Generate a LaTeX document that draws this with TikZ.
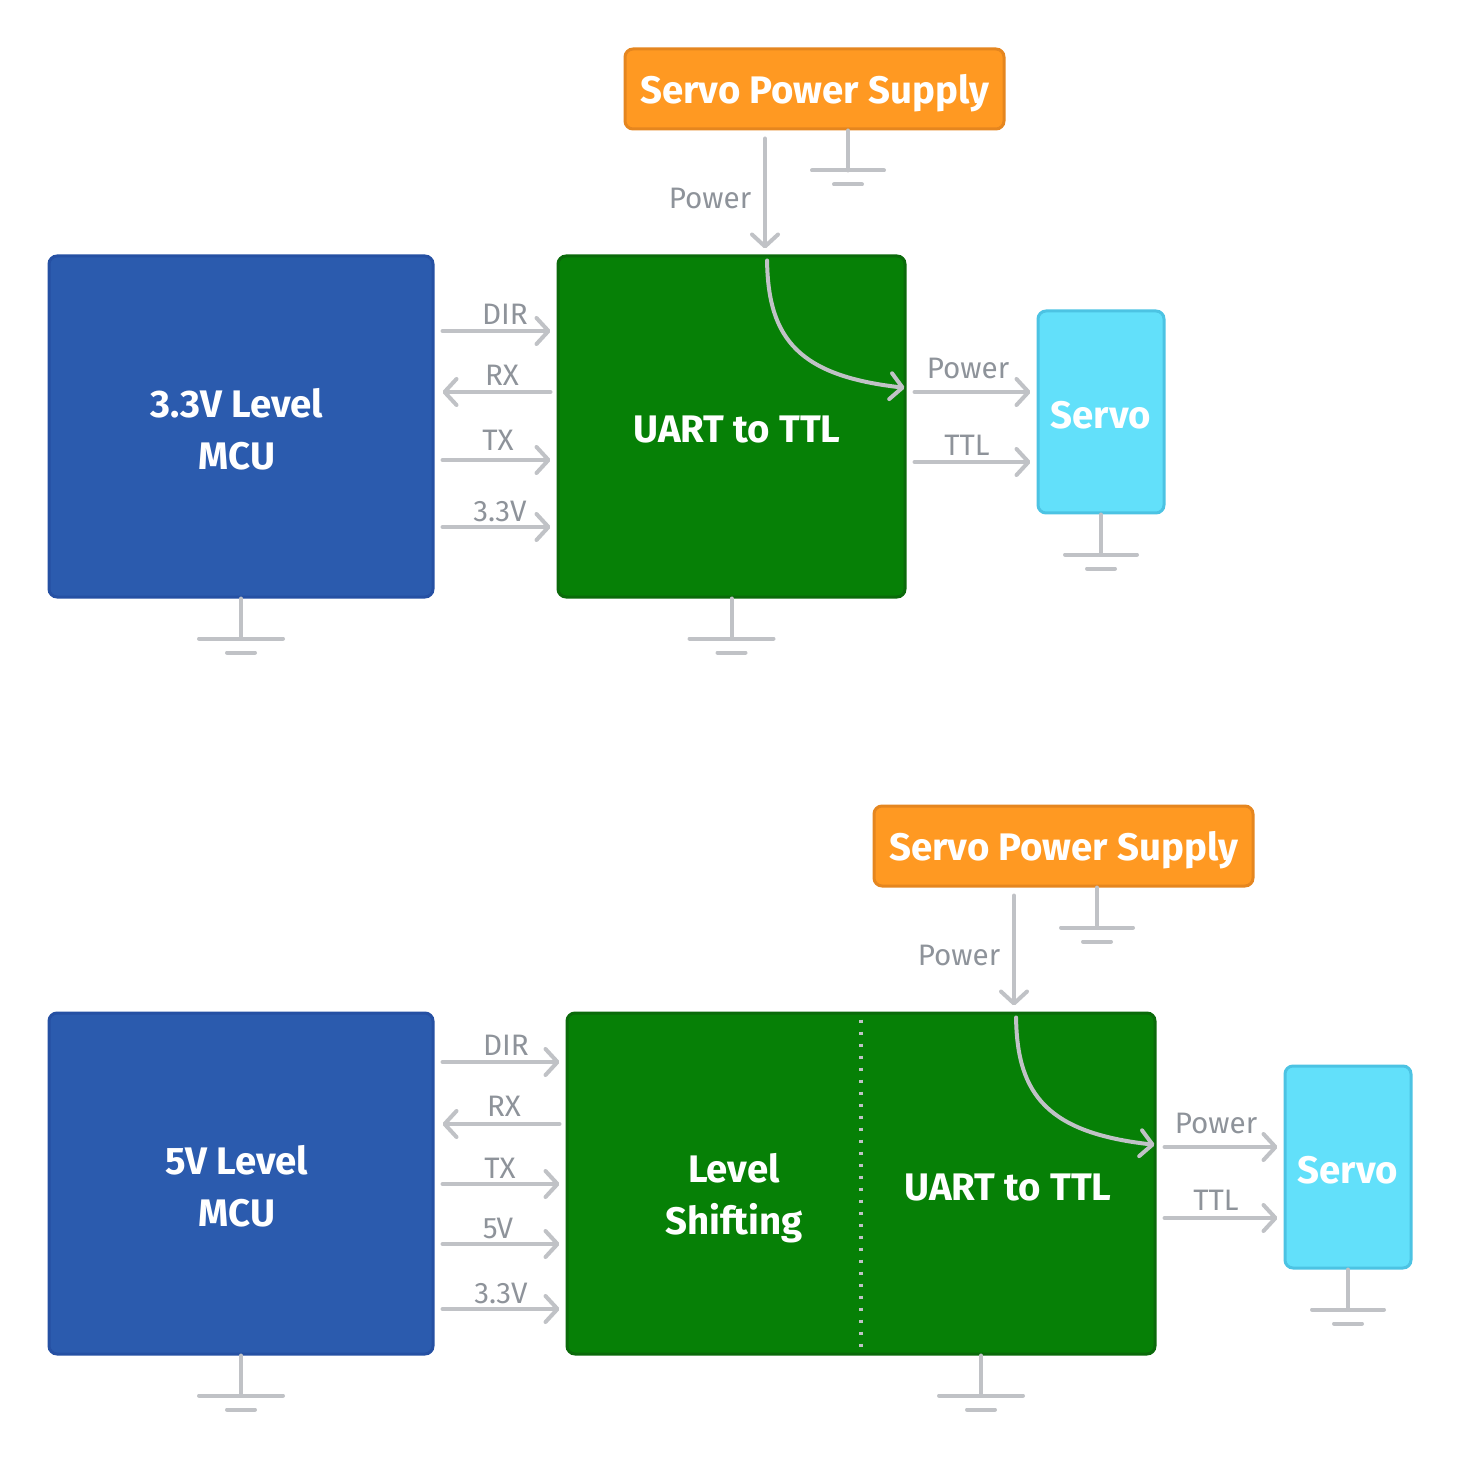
\documentclass[tikz,border=0pt]{standalone}
\usepackage{fontspec}
\setmainfont{Fira Sans}
\usepackage{tikz}
\usetikzlibrary{arrows.meta}
\usetikzlibrary{positioning}
\definecolor{supplycolour}{HTML}{FF9922}
\definecolor{supplyedge}{HTML}{E5861F}
\definecolor{mcucolour}{HTML}{2B5BAE}
\definecolor{mcuedge}{HTML}{2550A3}
\definecolor{convcolour}{HTML}{068006}
\definecolor{convedge}{HTML}{0A6A0A}
\definecolor{servocolour}{HTML}{62E0FA}
\definecolor{servoedge}{HTML}{4CC3E3}
\definecolor{wirecolour}{HTML}{C0C2C6}
\definecolor{labelcolour}{HTML}{8E939A}
\newcommand\linewd{2pt}
\newcommand\boxwd{1.5pt}
\newcommand\boxfont{\fontsize{19.2}{26}\selectfont\bfseries}
\newcommand\wirefont{\fontsize{14.8}{16}\selectfont}
\tikzstyle{block}   = [rounded corners=4pt, line width=\boxwd, text=white, font=\boxfont, align=center, inner sep=0pt]
\tikzstyle{signal}  = [line width=\linewd, color=wirecolour, line cap=round, -{Straight Barb[length=6pt, width=13pt, round]}]
\tikzstyle{earth}   = [line width=\linewd, color=wirecolour, line cap=round]
\tikzstyle{divider} = [line width=2pt, color=wirecolour, dash pattern=on 1.5pt off 4.5pt]
\tikzstyle{wirelabel} = [text=labelcolour, font=\wirefont, inner sep=0pt]
\newcommand\ground[2]{\draw[earth] #1 -- ++(0,40) ++(-#2,0) -- ++(2*#2,0) ++(-#2-14,14) -- ++(28,0);}

\begin{document}
\begin{tikzpicture}[x=0.5pt, y=-0.5pt]
    \useasboundingbox (0,0) rectangle (1462,1460);
    \tikzstyle{every node}=[wirelabel]
    % 3.3V MCU
    \draw (814.5, 89) node[block, fill=supplycolour, draw=supplyedge, text depth=0pt, minimum width=189.5pt, minimum height=40pt] (supplyA) {Servo Power Supply};
    \draw (241, 426.5) node[block, fill=mcucolour, draw=mcuedge, minimum width=192pt, minimum height=170.5pt] (mcuA) {};
    \draw (237, 429) node[block, draw=none] (mcuAtext) {3.3V Level\\MCU};
    \draw (731.5, 426.5) node[block, fill=convcolour, draw=convedge, minimum width=173.5pt, minimum height=170.5pt] (convA) {};
    \draw (737, 430) node[block, draw=none] (uartA) {UART to TTL};
    \draw (1101, 412) node[block, fill=servocolour, draw=servoedge, minimum width=63pt, minimum height=101pt] (servoA) {};
    \draw (1101, 415) node[block, draw=none] (servoAtext) {Servo};
    \draw (505, 314) node (dirA) {DIR};
    \draw (502, 375) node (rxA) {RX};
    \draw (498, 440) node (txA) {TX};
    \draw (500, 511) node (vccA) {3.3V};
    \draw (710, 198) node (pwrinA) {Power};
    \draw (968, 368) node (pwroutA) {Power};
    \draw (967, 445) node (ttlA) {TTL};
    \draw[signal] (supplyA.south -| 765,0) -- (convA.north -| 765,0) [shorten <=4pt, shorten >=3pt];
    \draw[signal] (mcuA.east |- 0,331) -- (convA.west |- 0,331) [shorten <=4pt, shorten >=3pt];
    \draw[signal] (convA.west |- 0,392) -- (mcuA.east |- 0,392) [shorten <=3pt, shorten >=4pt];
    \draw[signal] (mcuA.east |- 0,460) -- (convA.west |- 0,460) [shorten <=4pt, shorten >=3pt];
    \draw[signal] (mcuA.east |- 0,527) -- (convA.west |- 0,527) [shorten <=4pt, shorten >=3pt];
    \draw[signal] (convA.east |- 0,392) -- (servoA.west |- 0,392) [shorten <=4pt, shorten >=3pt];
    \draw[signal] (convA.east |- 0,462) -- (servoA.west |- 0,462) [shorten <=4pt, shorten >=3pt];
    \draw[signal] (convA.north -| 767,0) .. controls (768,340) and (800,376) .. (convA.east |- 0,388) [shorten <=3pt, shorten >=1pt];
    \ground{(supplyA.south -| 848,0)}{36}
    \ground{(mcuA.south)}{42}
    \ground{(convA.south)}{42}
    \ground{(servoA.south)}{36}
    % 5V MCU
    \draw (1063.5, 846) node[block, fill=supplycolour, draw=supplyedge, text depth=0pt, minimum width=189.5pt, minimum height=40pt] (supplyB) {Servo Power Supply};
    \draw (241, 1183.5) node[block, fill=mcucolour, draw=mcuedge, minimum width=192pt, minimum height=170.5pt] (mcuB) {};
    \draw (237, 1186) node[block, draw=none] (mcuBtext) {5V Level\\MCU};
    \draw (861, 1183.5) node[block, fill=convcolour, draw=convedge, minimum width=294pt, minimum height=170.5pt] (convB) {};
    \draw (1348, 1167) node[block, fill=servocolour, draw=servoedge, minimum width=63pt, minimum height=101pt] (servoB) {};
    \draw (1348, 1170) node[block, draw=none] (servoBtext) {Servo};
    \draw (734, 1198) node[block, draw=none] (shiftB) {Level\\Shifting};
    \draw (1008, 1188) node[block, draw=none] (uartB) {UART to TTL};
    \draw[divider] (convB.north -| 861,0) -- (convB.south -| 861,0) [shorten <=4pt, shorten >=2pt];
    \draw (506, 1045) node (dirB) {DIR};
    \draw (504, 1106) node (rxB) {RX};
    \draw (500, 1168) node (txB) {TX};
    \draw (498, 1228) node (fiveB) {5V};
    \draw (501, 1293) node (vccB) {3.3V};
    \draw (959, 955) node (pwrinB) {Power};
    \draw (1216, 1123) node (pwroutB) {Power};
    \draw (1216, 1200) node (ttlB) {TTL};
    \draw[signal] (supplyB.south -| 1014,0) -- (convB.north -| 1014,0) [shorten <=4pt, shorten >=3pt];
    \draw[signal] (mcuB.east |- 0,1062) -- (convB.west |- 0,1062) [shorten <=4pt, shorten >=3pt];
    \draw[signal] (convB.west |- 0,1124) -- (mcuB.east |- 0,1124) [shorten <=3pt, shorten >=4pt];
    \draw[signal] (mcuB.east |- 0,1184) -- (convB.west |- 0,1184) [shorten <=4pt, shorten >=3pt];
    \draw[signal] (mcuB.east |- 0,1244) -- (convB.west |- 0,1244) [shorten <=4pt, shorten >=3pt];
    \draw[signal] (mcuB.east |- 0,1309) -- (convB.west |- 0,1309) [shorten <=4pt, shorten >=3pt];
    \draw[signal] (convB.east |- 0,1147) -- (servoB.west |- 0,1147) [shorten <=4pt, shorten >=3pt];
    \draw[signal] (convB.east |- 0,1218) -- (servoB.west |- 0,1218) [shorten <=4pt, shorten >=3pt];
    \draw[signal] (convB.north -| 1016,0) .. controls (1017,1096) and (1049,1133) .. (convB.east |- 0,1145) [shorten <=3pt, shorten >=1pt];
    \ground{(supplyB.south -| 1097,0)}{36}
    \ground{(mcuB.south)}{42}
    \ground{(convB.south -| 981,0)}{42}
    \ground{(servoB.south)}{36}
\end{tikzpicture}
\end{document}
